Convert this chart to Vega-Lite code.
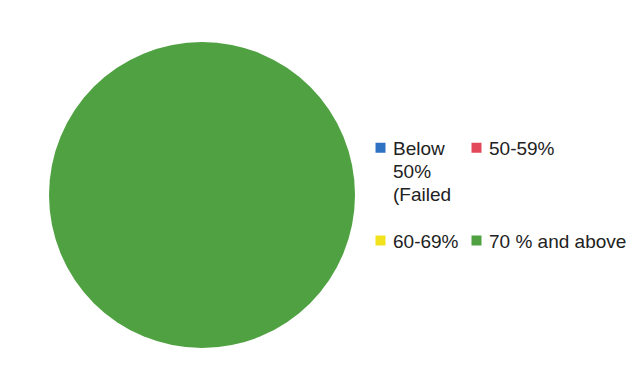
{
  "$schema": "https://vega.github.io/schema/vega-lite/v6.json",
  "width": 306,
  "height": 306,
  "autosize": "none",
  "padding": {"left": 49, "top": 42, "right": 284, "bottom": 27},
  "background": "#ffffff",
  "data": {
    "values": [
      {"category": "Below|50%|(Failed", "value": 0},
      {"category": "50-59%", "value": 0},
      {"category": "60-69%", "value": 0},
      {"category": "70 % and above", "value": 100}
    ]
  },
  "mark": {"type": "arc"},
  "encoding": {
    "theta": {"field": "value", "type": "quantitative", "stack": true},
    "color": {
      "field": "category",
      "type": "nominal",
      "sort": ["Below|50%|(Failed", "50-59%", "60-69%", "70 % and above"],
      "scale": {
        "domain": ["Below|50%|(Failed", "50-59%", "60-69%", "70 % and above"],
        "range": ["#2f72c4", "#e2485a", "#f2e21e", "#4fa141"]
      },
      "legend": {
        "title": null,
        "orient": "none",
        "direction": "horizontal",
        "legendX": 322,
        "legendY": 96,
        "columns": 2,
        "columnPadding": 8,
        "rowPadding": 26,
        "symbolType": "square",
        "symbolSize": 100,
        "symbolStrokeWidth": 0,
        "labelFont": "Liberation Sans",
        "labelFontSize": 19,
        "labelColor": "#222222",
        "labelLimit": 300,
        "labelExpr": "datum.label == '50-59%' ? ['50-59%', '', ''] : split(datum.label, '|')",
        "labelBaseline": "top",
        "labelOffset": 3,
        "encode": {
          "labels": {
            "update": {
              "dy": {"value": -8},
              "lineHeight": {"value": 23}
            }
          }
        }
      }
    }
  },
  "config": {"view": {"stroke": null}}
}
